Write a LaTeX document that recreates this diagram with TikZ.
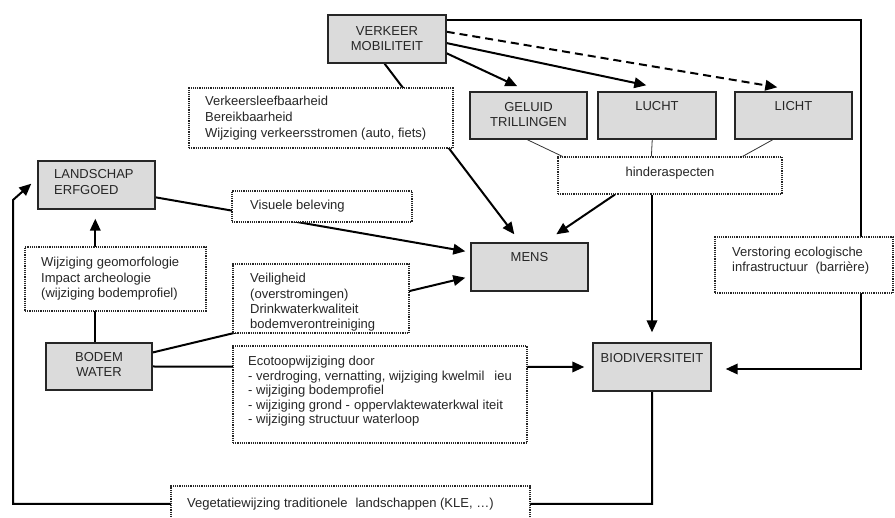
\documentclass[tikz,border=0pt]{standalone}
\usepackage{fontspec}
\setmainfont{Liberation Sans}
\usetikzlibrary{arrows.meta,calc}
\pgfdeclarelayer{background}
\pgfsetlayers{background,main}
\begin{document}
\begin{tikzpicture}[x=1pt,y=-1pt,
  graybox/.style={draw=black!85,line width=1.4pt,fill=gray!28,inner sep=0pt},
  dotbox/.style={draw=black!85,densely dotted,line width=1.2pt,fill=white,inner sep=0pt},
  conn/.style={line width=2pt,-{Triangle[length=12pt,width=10.5pt]}},
  dconn/.style={conn,dash pattern=on 8pt off 5pt},
  thinlink/.style={line width=0.8pt,draw=black!80},
  capt/.style={font=\fontsize{13}{15}\selectfont,text=black!85,inner sep=0pt,anchor=base},
  lbl/.style={font=\fontsize{13}{15}\selectfont,text=black!85,inner sep=0pt,anchor=base west},
]
\useasboundingbox (0,0) rectangle (895,518);

% gray boxes
\node[graybox,minimum width=118pt,minimum height=48pt] (verkeer) at (387,39) {};
\node[graybox,minimum width=117pt,minimum height=47pt] (geluid) at (528.5,115.5) {};
\node[graybox,minimum width=118pt,minimum height=47pt] (lucht) at (657,115.5) {};
\node[graybox,minimum width=117pt,minimum height=47pt] (licht) at (793.5,115.5) {};
\node[graybox,minimum width=117pt,minimum height=48pt] (landschap) at (96.5,185) {};
\node[graybox,minimum width=117pt,minimum height=48pt] (mens) at (529.5,267) {};
\node[graybox,minimum width=106pt,minimum height=47pt] (bodem) at (99,366.5) {};
\node[graybox,minimum width=118pt,minimum height=48pt] (bio) at (652,367) {};

% dotted boxes
\node[dotbox,minimum width=224pt,minimum height=37pt] (hinder) at (670,175.5) {};
\node[dotbox,minimum width=264pt,minimum height=60pt] (vlb) at (321,118) {};
\node[dotbox,minimum width=180pt,minimum height=31pt] (visueel) at (322,206.5) {};
\node[dotbox,minimum width=181pt,minimum height=64pt] (geomorf) at (115.5,279) {};
\node[dotbox,minimum width=176pt,minimum height=69pt] (veilig) at (321,298.5) {};
\node[dotbox,minimum width=294pt,minimum height=97pt] (ecotoop) at (380,394.5) {};
\node[dotbox,minimum width=178pt,minimum height=56pt] (verstoring) at (804,265) {};
\node[dotbox,minimum width=359pt,minimum height=44pt] (vegetatie) at (350.5,508) {};

% texts in gray boxes
\node[capt] (verkeerA) at (387,36) {VERKEER};
\node[capt] (verkeerB) at (387,51) {MOBILITEIT};
\node[capt] (geluidA) at (528.5,112) {GELUID};
\node[capt] (geluidB) at (528.5,127) {TRILLINGEN};
\node[capt] (luchtA) at (657,111) {LUCHT};
\node[capt] (lichtA) at (793.5,111) {LICHT};
\node[capt,anchor=base west] (landA) at (54,179) {LANDSCHAP};
\node[capt,anchor=base west] (landB) at (54,195) {ERFGOED};
\node[capt] (mensA) at (529.5,262) {MENS};
\node[capt] (bodemA) at (99,362) {BODEM};
\node[capt] (bodemB) at (99,377) {WATER};
\node[capt] (bioA) at (652,363) {BIODIVERSITEIT};

% texts in dotted boxes
\node[lbl,anchor=base] (hinderA) at (670,177) {hinderaspecten};
\foreach \t [count=\i] in {Verkeersleefbaarheid,Bereikbaarheid,{Wijziging verkeersstromen (auto, fiets)}}
  \node[lbl] (vlbT\i) at (205,{106+16*(\i-1)}) {\t};
\node[lbl] (visueelA) at (250,210) {Visuele beleving};
\foreach \t [count=\i] in {Wijziging geomorfologie,Impact archeologie,(wijziging bodemprofiel)}
  \node[lbl] (geomorfT\i) at (41,{267+15.5*(\i-1)}) {\t};
\foreach \t [count=\i] in {Veiligheid,(overstromingen),Drinkwaterkwaliteit,bodemverontreiniging}
  \node[lbl] (veiligT\i) at (250,{283+15.3*(\i-1)}) {\t};
\foreach \t [count=\i] in {Ecotoopwijziging door,{- verdroging, vernatting, wijziging kwelmil\hspace{10pt}ieu},- wijziging bodemprofiel,{- wijziging grond -\hspace{4pt}oppervlaktewaterkwal iteit},- wijziging structuur waterloop}
  \node[lbl] (ecoT\i) at (248,{366+14.5*(\i-1)}) {\t};
\node[lbl] (verstA) at (732,257) {Verstoring ecologische};
\node[lbl] (verstB) at (732,272) {infrastructuur\hspace{4pt} (barrière)};
\node[lbl] (vegA) at (187,508) {Vegetatiewijzing traditionele\hspace{8pt}landschappen (KLE, …)};

% bend points
\coordinate (cornerR) at (861,369);
\coordinate (botR) at (652,504);
\coordinate (botL) at (13,504);
\coordinate (leftT) at (13,200);

\begin{pgfonlayer}{background}
% from VERKEER
\draw[conn] ($(verkeer.south west)!0.48!(verkeer.south east)$) -- ($(mens.north west)+(44,-8)$);
\draw[conn] ($(verkeer.north east)!0.125!(verkeer.south east)$) -| (cornerR) -- ($(bio.east)+(14,2)$);
\draw[dconn] ($(verkeer.north east)!0.354!(verkeer.south east)$) -- ($(licht.north west)+(43,-4)$);
\draw[conn] ($(verkeer.north east)!0.583!(verkeer.south east)$) -- ($(lucht.north west)+(49,-6)$);
\draw[conn] ($(verkeer.north east)!0.79!(verkeer.south east)$) -- ($(geluid.north west)+(48,-5)$);
% to hinderaspecten
\draw[thinlink] ($(geluid.south west)!0.49!(geluid.south east)$) -- ($(hinder.north west)+(5,0)$);
\draw[thinlink] ($(lucht.south west)!0.46!(lucht.south east)$) -- ($(hinder.north west)+(94,0)$);
\draw[thinlink] ($(licht.south west)!0.325!(licht.south east)$) -- ($(hinder.north east)+(-40,0)$);
% from hinderaspecten
\draw[conn] ($(hinder.south west)!0.255!(hinder.south east)$) -- ($(mens.north west)+(86,-8)$);
\draw[conn] (bio.north |- hinder.south) -- ($(bio.north)+(0,-10)$);
% left side
\draw[conn] ($(landschap.north east)!0.75!(landschap.south east)$) -- ($(mens.north west)+(-5,9)$);
\draw[conn] ($(bodem.north east)!0.21!(bodem.south east)$) -- ($(mens.south west)+(-5,-14)$);
\draw[conn] ($(bodem.north west)+(50,0)$) -- ($(landschap.south west)+(58,9)$);
\draw[conn] (bodem.east) -- ($(bio.west)+(-8,0)$);
\draw[conn] (bio.south) -- (botR) -- (botL) -- (leftT) -- ($(landschap.south west)+(-6,-26)$);
\end{pgfonlayer}
\end{tikzpicture}
\end{document}
